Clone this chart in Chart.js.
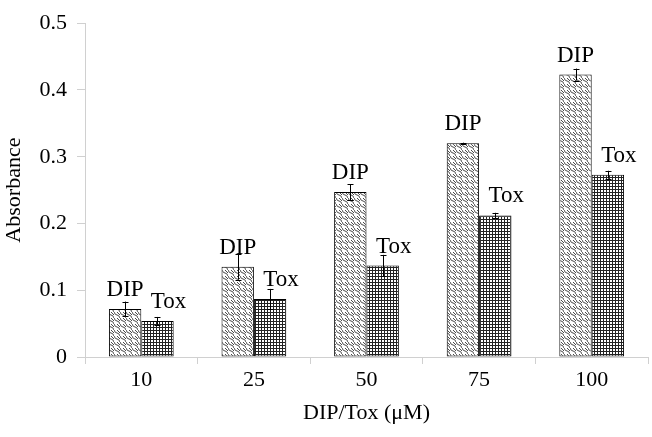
<!DOCTYPE html>
<html>
<head>
<meta charset="utf-8">
<script src="https://cdn.jsdelivr.net/npm/chart.js@4/dist/chart.umd.min.js"></script>
<style>
    html, body { margin: 0; padding: 0; background: #fff; }
    #wrap { width: 652px; height: 437px; }
</style>
</head>
<body>
<div id="wrap"><canvas id="chart"></canvas></div>
<script>
// Data
const concentrations = ['10', '25', '50', '75', '100'];
const dipValues = [0.072, 0.135, 0.247, 0.320, 0.423];
const dipErrors = [0.011, 0.019, 0.012, 0.001, 0.009];
const toxValues = [0.054, 0.087, 0.137, 0.212, 0.273];
const toxErrors = [0.006, 0.015, 0.016, 0.004, 0.006];
const seriesNames = ['DIP', 'Tox'];

const serif = "'Liberation Serif', 'Times New Roman', serif";

// Wavy diagonal hatching for DIP bars
function makeDipPattern(ctx) {
    const c = document.createElement('canvas');
    c.width = 6;
    c.height = 6;
    const g = c.getContext('2d');
    g.fillStyle = '#ffffff';
    g.fillRect(0, 0, 6, 6);
    g.strokeStyle = '#4a4a4a';
    g.lineWidth = 1;
    g.beginPath();
    g.moveTo(0, 0);
    g.quadraticCurveTo(1, 3, 3, 3);
    g.quadraticCurveTo(5, 3, 6, 6);
    g.stroke();
    g.beginPath();
    g.moveTo(3, 0);
    g.lineTo(6, 3);
    g.stroke();
    return ctx.createPattern(c, 'repeat');
}

// Fine grid for Tox bars
function makeToxPattern(ctx) {
    const c = document.createElement('canvas');
    c.width = 3;
    c.height = 3;
    const g = c.getContext('2d');
    g.fillStyle = '#ffffff';
    g.fillRect(0, 0, 3, 3);
    g.fillStyle = '#222222';
    g.fillRect(0, 0, 3, 1);
    g.fillRect(0, 0, 1, 3);
    return ctx.createPattern(c, 'repeat');
}

// Error bars and series labels above each bar
const errorBarPlugin = {
    id: 'errorBars',
    afterDatasetsDraw(chart) {
        const ctx = chart.ctx;
        const y = chart.scales.y;
        const errs = [dipErrors, toxErrors];
        ctx.save();
        chart.data.datasets.forEach((ds, di) => {
            const meta = chart.getDatasetMeta(di);
            meta.data.forEach((bar, i) => {
                const v = ds.data[i];
                const e = errs[di][i];
                const top = y.getPixelForValue(v + e);
                const bot = y.getPixelForValue(v - e);
                const x = Math.round(bar.x) + 0.5;
                ctx.strokeStyle = '#000';
                ctx.lineWidth = 1;
                ctx.beginPath();
                ctx.moveTo(x, top);
                ctx.lineTo(x, bot);
                ctx.moveTo(x - 3, Math.round(top) + 0.5);
                ctx.lineTo(x + 3, Math.round(top) + 0.5);
                ctx.moveTo(x - 3, Math.round(bot) + 0.5);
                ctx.lineTo(x + 3, Math.round(bot) + 0.5);
                ctx.stroke();

                // label
                ctx.fillStyle = '#000';
                ctx.font = '23px ' + serif;
                ctx.textAlign = 'center';
                ctx.textBaseline = 'alphabetic';
                const dx = di === 0 ? 0 : 11;
                ctx.fillText(seriesNames[di], bar.x + dx, bar.y - 13);
            });
        });
        ctx.restore();
    }
};

const canvas = document.getElementById('chart');
const ctx = canvas.getContext('2d');

new Chart(ctx, {
    type: 'bar',
    data: {
        labels: concentrations,
        datasets: [
            {
                label: seriesNames[0],
                data: dipValues,
                backgroundColor: makeDipPattern(ctx),
                borderColor: '#000',
                borderWidth: 1,
                borderSkipped: false
            },
            {
                label: seriesNames[1],
                data: toxValues,
                backgroundColor: makeToxPattern(ctx),
                borderColor: '#000',
                borderWidth: 1,
                borderSkipped: false
            }
        ]
    },
    options: {
        responsive: true,
        maintainAspectRatio: false,
        animation: false,
        layout: {
            padding: { top: 14, right: 4, bottom: 0, left: 0 }
        },
        datasets: {
            bar: {
                categoryPercentage: 0.575,
                barPercentage: 1
            }
        },
        plugins: {
            legend: { display: false },
            tooltip: { enabled: false }
        },
        scales: {
            x: {
                grid: {
                    offset: true,
                    drawOnChartArea: false,
                    drawTicks: true,
                    tickLength: 7,
                    color: '#d0d0d0'
                },
                border: { color: '#d0d0d0' },
                ticks: {
                    color: '#000',
                    padding: 3,
                    font: { family: serif, size: 22 }
                },
                title: {
                    display: true,
                    text: 'DIP/Tox (μM)',
                    color: '#000',
                    font: { family: serif, size: 22 },
                    padding: { top: 0, bottom: 11 }
                },
                afterFit(scale) {
                    scale.height = 80;
                }
            },
            y: {
                min: 0,
                max: 0.5,
                ticks: {
                    stepSize: 0.1,
                    color: '#000',
                    padding: 10,
                    font: { family: serif, size: 22 }
                },
                grid: {
                    drawOnChartArea: false,
                    drawTicks: true,
                    tickLength: 8,
                    color: '#d0d0d0'
                },
                border: { color: '#d0d0d0' },
                title: {
                    display: true,
                    text: 'Absorbance',
                    color: '#000',
                    font: { family: serif, size: 22 },
                    padding: { top: 1, bottom: 0 }
                },
                afterFit(scale) {
                    scale.width = 85;
                }
            }
        }
    },
    plugins: [errorBarPlugin]
});
</script>
</body>
</html>
